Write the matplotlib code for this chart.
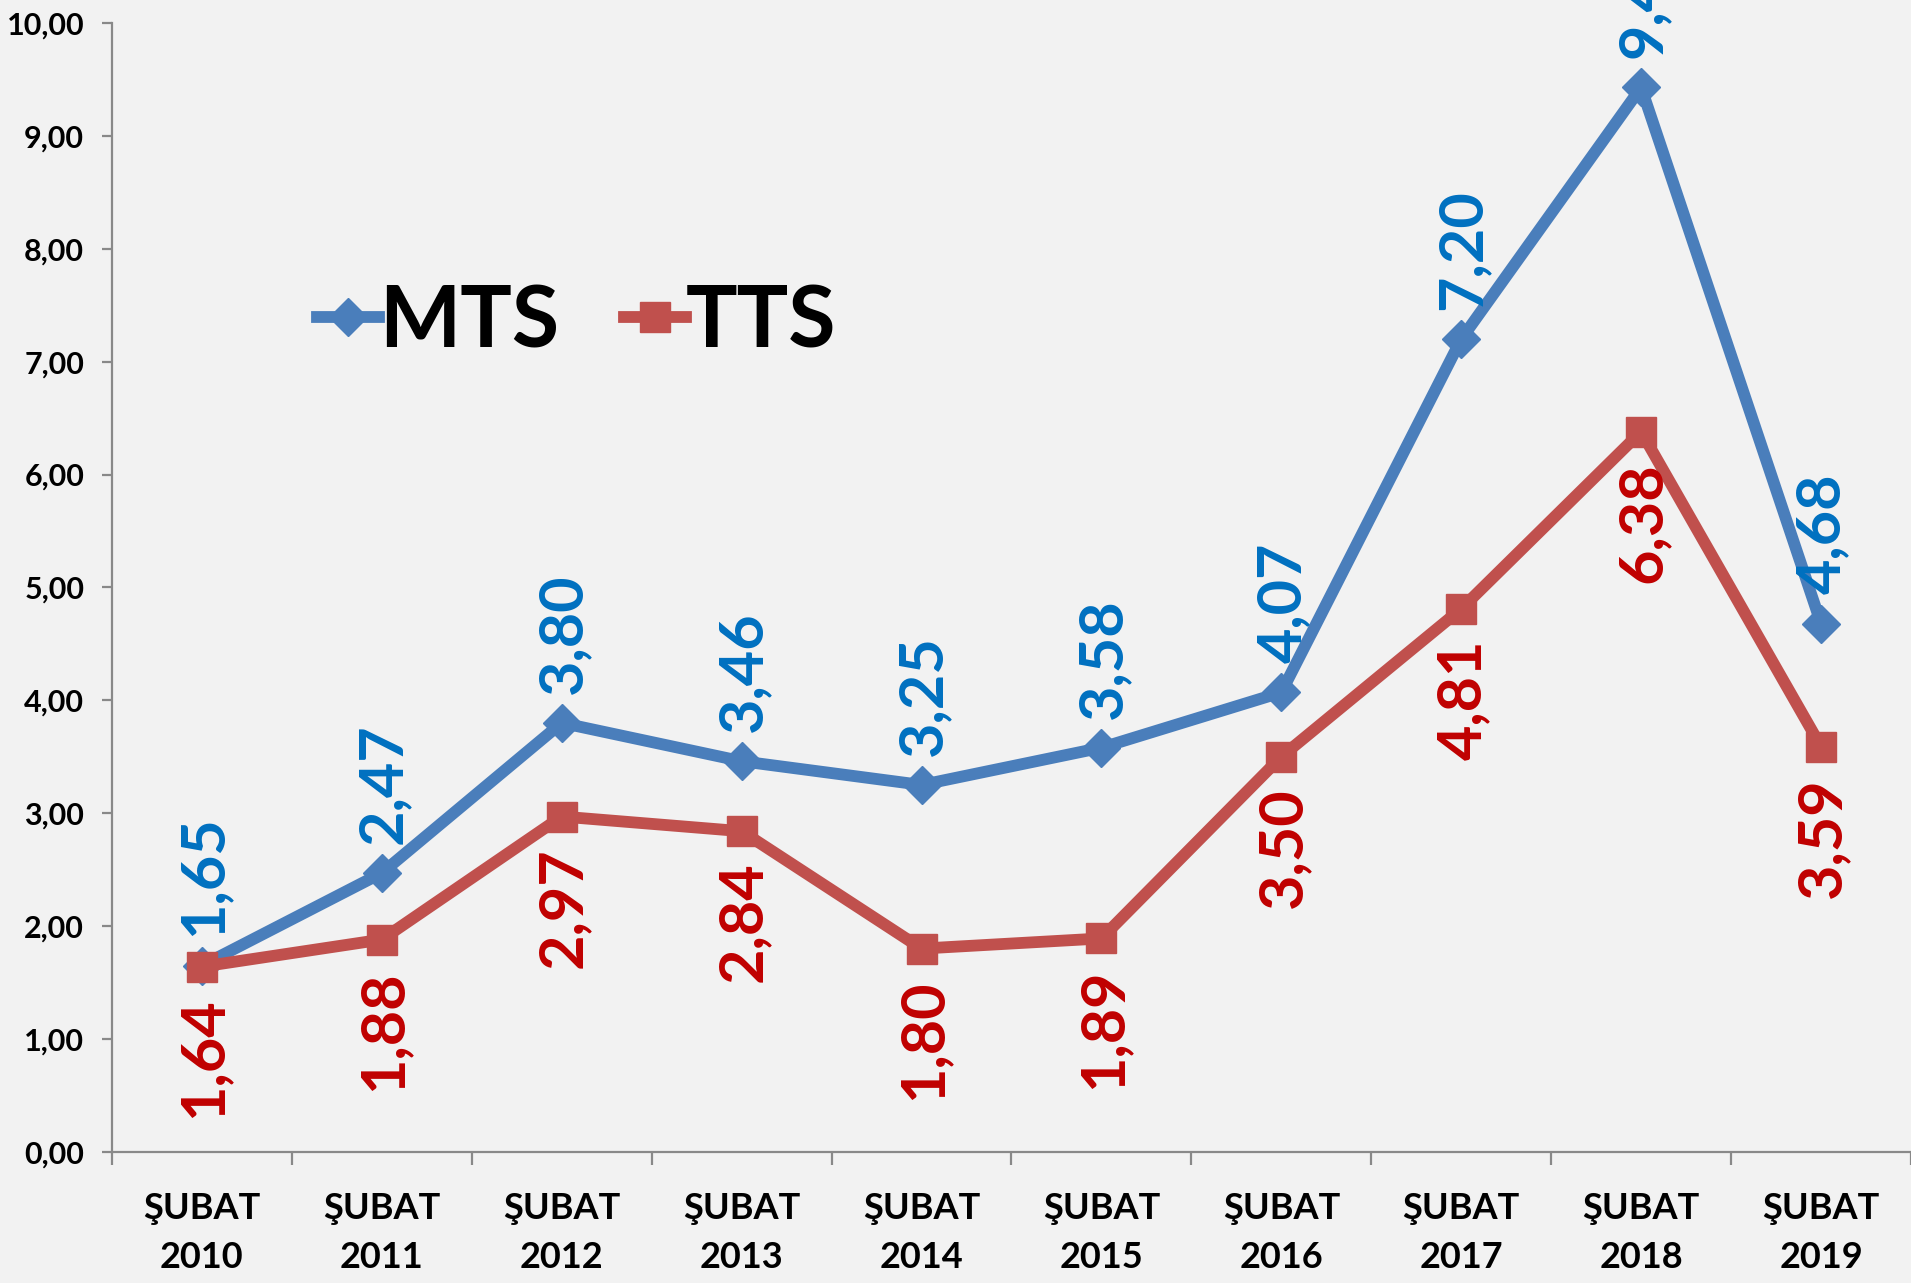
import matplotlib
matplotlib.use("Agg")
import matplotlib.pyplot as plt
from matplotlib.ticker import FuncFormatter, FixedLocator

categories = ["ŞUBAT\n2010", "ŞUBAT\n2011", "ŞUBAT\n2012", "ŞUBAT\n2013", "ŞUBAT\n2014",
              "ŞUBAT\n2015", "ŞUBAT\n2016", "ŞUBAT\n2017", "ŞUBAT\n2018", "ŞUBAT\n2019"]
mts = [1.65, 2.47, 3.80, 3.46, 3.25, 3.58, 4.07, 7.20, 9.43, 4.68]
tts = [1.64, 1.88, 2.97, 2.84, 1.80, 1.89, 3.50, 4.81, 6.38, 3.59]

plt.rcParams['font.family'] = ['Lato', 'DejaVu Sans']
plt.rcParams['font.weight'] = 'bold'

fig = plt.figure(figsize=(19.11, 12.83), dpi=100, facecolor='#f2f2f2')
ax = fig.add_axes([0.0586, 0.1023, 0.9414, 0.8797])
ax.set_facecolor('none')

x = list(range(len(categories)))
blue_line = '#4a7ebb'
red_line = '#c0504d'
ax.plot(x, mts, color=blue_line, lw=8.5, marker='D', ms=19, label='MTS', zorder=3,
        solid_joinstyle='miter')
ax.plot(x, tts, color=red_line, lw=8.5, marker='s', ms=22, label='TTS', zorder=3,
        solid_joinstyle='miter')

def fmt(v):
    return f"{v:.2f}".replace('.', ',')

for xi, v in zip(x, mts):
    ax.annotate(fmt(v), (xi, v), xytext=(1, 21), textcoords='offset points',
                rotation=90, ha='center', va='bottom', color='#0070c0',
                fontsize=44, fontweight='bold', annotation_clip=False, zorder=4)
for xi, v in zip(x, tts):
    ax.annotate(fmt(v), (xi, v), xytext=(1, -22), textcoords='offset points',
                rotation=90, ha='center', va='top', color='#c00000',
                fontsize=44, fontweight='bold', annotation_clip=False, zorder=4)

ax.set_xlim(-0.5, len(categories) - 0.5)
ax.set_ylim(0, 10)
ax.set_yticks([i for i in range(11)])
ax.yaxis.set_major_formatter(FuncFormatter(lambda v, p: fmt(v)))
ax.set_xticks(x)
ax.set_xticklabels(categories, linespacing=1.6)
ax.xaxis.set_minor_locator(FixedLocator([i - 0.5 for i in range(len(categories) + 1)]))

gray = '#898989'
for s in ['top', 'right']:
    ax.spines[s].set_visible(False)
for s in ['left', 'bottom']:
    ax.spines[s].set_color(gray)
    ax.spines[s].set_linewidth(1.6)

ax.tick_params(axis='y', direction='out', length=7, width=1.6, color=gray,
               labelsize=22, pad=13)
ax.tick_params(axis='x', which='major', length=0, labelsize=26, pad=29)
ax.tick_params(axis='x', which='minor', direction='out', length=9, width=1.6, color=gray)
for lab in ax.get_xticklabels() + ax.get_yticklabels():
    lab.set_fontweight('bold')

leg = ax.legend(loc='center left', bbox_to_anchor=(317 / 1911, 1 - 323 / 1283),
                bbox_transform=fig.transFigure, ncol=2, frameon=False,
                prop={'family': 'Lato', 'weight': 'bold', 'size': 62},
                handlelength=0.72, handletextpad=0.0, columnspacing=0.75,
                borderpad=0, borderaxespad=0)

fig.savefig('out.png', dpi=100, facecolor=fig.get_facecolor())
